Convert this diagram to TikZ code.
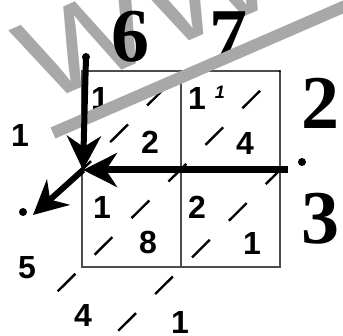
\documentclass[tikz,border=0pt]{standalone}
\usepackage{fontspec}
\usepackage{xcolor}
\usepackage{tikz}
\usetikzlibrary{arrows.meta, positioning, calc}
\newfontfamily\digsans{Liberation Sans}
\newfontfamily\digserif{Liberation Serif}
\definecolor{markgray}{rgb}{0.66, 0.66, 0.66}
\definecolor{gridgray}{rgb}{0.3, 0.3, 0.3}
\tikzset{
  cell/.style={font=\digsans\bfseries\fontsize{32}{36}\selectfont, inner sep=0pt},
  carry/.style={font=\digsans\bfseries\itshape\fontsize{18}{20}\selectfont, inner sep=0pt},
  factor/.style={font=\digserif\bfseries\fontsize{76}{80}\selectfont, inner sep=0pt},
  dot/.style={circle, fill=black, inner sep=0pt, minimum size=8pt},
  lattice/.style={dash pattern=on 25pt off 27pt, line width=2.4pt},
  gridline/.style={gridgray, line width=1.2pt},
  sweep/.style={->, line width=6pt},
}

\begin{document}
\begin{tikzpicture}[x=1pt, y=-1pt, >={Stealth[length=34pt, width=34pt, inset=11pt]}]
        \useasboundingbox (0,0) rectangle (343,336);
        % Watermark letters
        \node[anchor=base west, rotate=23.5, xscale=1.2, text=markgray, inner sep=0pt,
              font=\digsans\fontsize{118}{120}\selectfont] (mark) at (40,106) {WWW};
        % Lattice grid
        \coordinate (nw) at (82,71);
        \coordinate (se) at (280,267);
        \coordinate (corner) at (83,170);
        \draw [gridline] (nw) rectangle (se) (181,71) -- (181,267) (82,170) -- (280,170);
        % Diagonals
        \draw [lattice, dash phase=28pt] (182,71) -- (82,170);
        \draw [lattice, dash phase=24pt] (280,71) -- (56,293);
        \draw [lattice, dash phase=5pt] (280,170) -- (118,331);
        % Partial products
        \node[cell] (a1) at (100,98) {1};
        \node[cell] (a2) at (150,142) {2};
        \node[cell] (b1) at (197,98) {1};
        \node[carry] (b0) at (220,92) {1};
        \node[cell] (b4) at (245,143) {4};
        \node[cell] (c1) at (102,207) {1};
        \node[cell] (c8) at (148,242) {8};
        \node[cell] (d2) at (197,207) {2};
        \node[cell] (d1) at (252,243) {1};
        % Result digits
        \node[cell] (r1) at (20,135) {1};
        \node[cell] (r5) at (27,268) {5};
        \node[cell] (r4) at (83,315) {4};
        \node[cell] (r0) at (180,322) {1};
        % Factors
        \node[factor] (f6) at (130,37) {6};
        \node[factor] (f7) at (228,37) {7};
        \node[factor] (g2) at (320,103) {2};
        \node[factor] (g3) at (320,219) {3};
        % Watermark bar
        \draw [markgray, line width=12pt] (53,133) -- (350,4);
        % Dots and arrows
        \node[dot] (ptop) at (86,57) {};
        \node[dot] (pright) at (302,162) {};
        \node[dot] (pleft) at (23,212) {};
        \coordinate (tail) at (288,170);
        \coordinate (tip) at (33,215);
        \draw [sweep] (ptop.center) -- (corner);
        \draw [sweep, line width=7pt] (tail) -- (corner);
        \draw [sweep] (corner) -- (tip);
\end{tikzpicture}
\end{document}
